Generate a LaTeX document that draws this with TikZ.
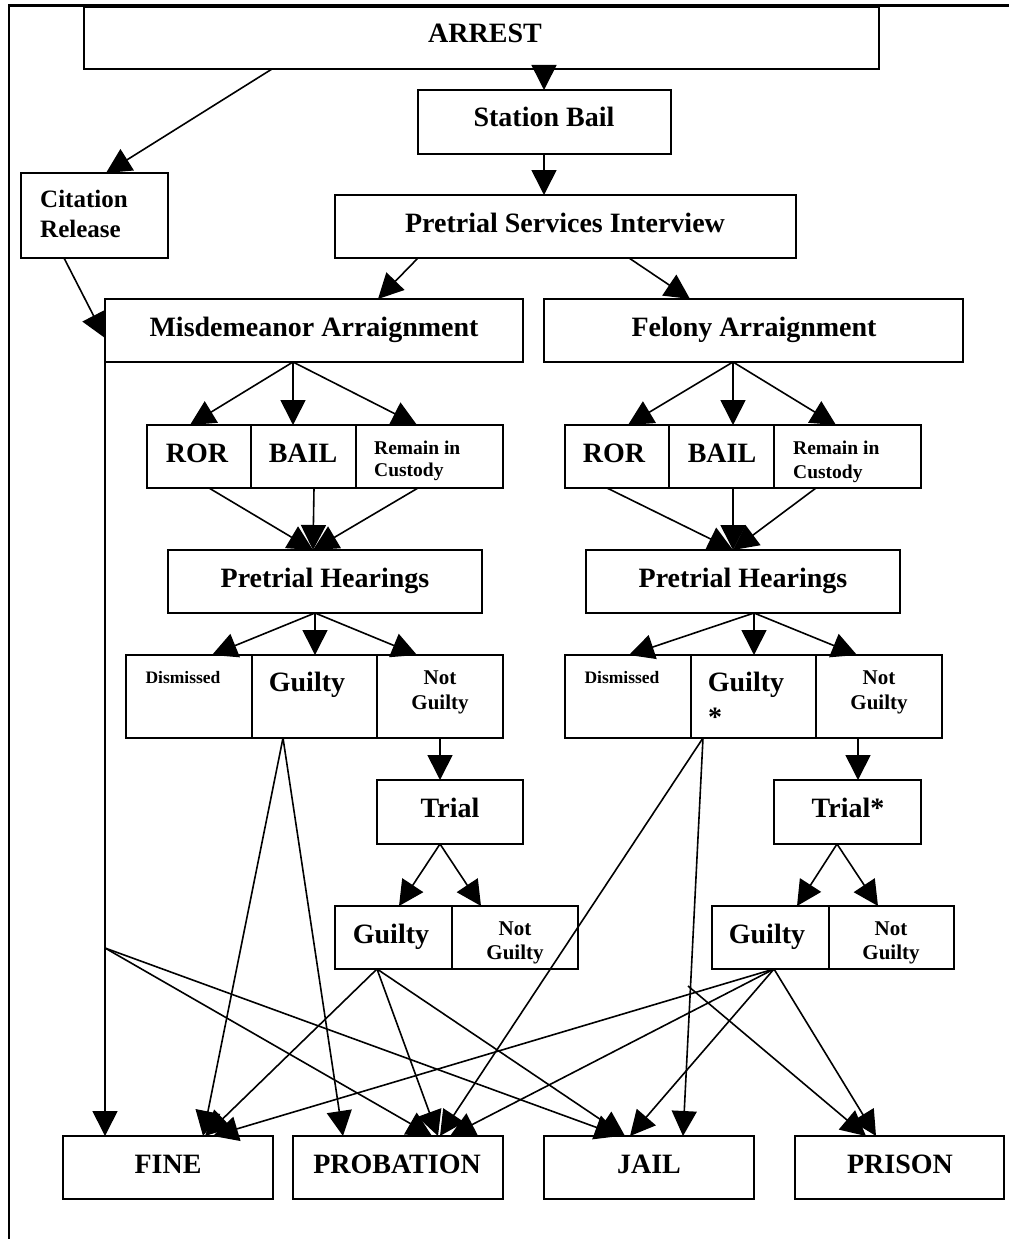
\documentclass[tikz,border=0pt]{standalone}
\usepackage{fontspec}
\setmainfont{Liberation Serif}
\usetikzlibrary{arrows.meta,calc}
\tikzset{
  box/.style={draw, line width=2pt, inner sep=0pt, outer sep=0pt, rectangle},
  lbl/.style={inner sep=0pt, anchor=base, font=\bfseries\fontsize{28}{30}\selectfont},
  cit/.style={inner sep=0pt, anchor=base west, font=\bfseries\fontsize{25}{27}\selectfont},
  rem/.style={inner sep=0pt, anchor=base west, font=\bfseries\fontsize{19.5}{21}\selectfont},
  ngl/.style={inner sep=0pt, anchor=base, font=\bfseries\fontsize{21}{23}\selectfont},
  dis/.style={inner sep=0pt, anchor=base, font=\bfseries\fontsize{17.5}{19}\selectfont},
  arr/.style={line width=1.6pt, -{Triangle[length=25pt,width=25pt]}},
  frame/.style={line width=2.5pt},
}
\newcommand\mkbox[5]{\node[box,minimum width={(#4)-(#2)},minimum height={(#5)-(#3)}] (#1) at ({((#2)+(#4))/2},{((#3)+(#5))/2}) {};}
\begin{document}
\begin{tikzpicture}[x=1pt,y=-1pt]
\useasboundingbox[fill=white] (0,0) rectangle (1009,1239);
% frame
\draw[line width=2pt] (9,1239) -- (9,6);
\draw[line width=3pt] (8,6) -- (1009,6);
% boxes
\mkbox{arrest}{84}{7}{879}{69}
\mkbox{station}{418}{90}{671}{154}
\mkbox{citation}{21}{173}{168}{258}
\mkbox{psi}{335}{195}{796}{258}
\mkbox{misd}{105}{299}{523}{362}
\mkbox{fel}{544}{299}{963}{362}
\mkbox{mror}{147}{425}{251}{488}
\mkbox{mbail}{251}{425}{356}{488}
\mkbox{mrem}{356}{425}{503}{488}
\mkbox{fror}{565}{425}{669}{488}
\mkbox{fbail}{669}{425}{774}{488}
\mkbox{frem}{774}{425}{921}{488}
\mkbox{mph}{168}{550}{482}{613}
\mkbox{fph}{586}{550}{900}{613}
\mkbox{mdis}{126}{655}{252}{738}
\mkbox{mgui}{252}{655}{377}{738}
\mkbox{mng}{377}{655}{503}{738}
\mkbox{fdis}{565}{655}{691}{738}
\mkbox{fgui}{691}{655}{816}{738}
\mkbox{fng}{816}{655}{942}{738}
\mkbox{mtrial}{377}{780}{523}{844}
\mkbox{ftrial}{774}{780}{921}{844}
\mkbox{mtg}{335}{906}{452}{969}
\mkbox{mtng}{452}{906}{578}{969}
\mkbox{ftg}{712}{906}{829}{969}
\mkbox{ftng}{829}{906}{954}{969}
\mkbox{fine}{63}{1136}{273}{1199}
\mkbox{prob}{293}{1136}{503}{1199}
\mkbox{jail}{544}{1136}{754}{1199}
\mkbox{prison}{795}{1136}{1004}{1199}
% texts
\node[lbl] (arrestT) at (485,43) {ARREST};
\node[lbl] (stationT) at (544,126) {Station Bail};
\node[cit] (citT1) at (40,207) {Citation};
\node[cit] (citT2) at (40,237) {Release};
\node[lbl] (psiT) at (565,232) {Pretrial Services Interview};
\node[lbl] (misdT) at (314,336) {Misdemeanor Arraignment};
\node[lbl] (felT) at (754,336) {Felony Arraignment};
\node[lbl] (mrorT) at (197,462) {ROR};
\node[lbl] (mbailT) at (303,462) {BAIL};
\node[rem] (mremT1) at (374,454) {Remain in};
\node[rem] (mremT2) at (374,476) {Custody};
\node[lbl] (frorT) at (614,462) {ROR};
\node[lbl] (fbailT) at (722,462) {BAIL};
\node[rem] (fremT1) at (793,454) {Remain in};
\node[rem] (fremT2) at (793,478) {Custody};
\node[lbl] (mphT) at (325,587) {Pretrial Hearings};
\node[lbl] (fphT) at (743,587) {Pretrial Hearings};
\node[dis] (mdisT) at (183,683) {Dismissed};
\node[lbl] (mguiT) at (307,691) {Guilty};
\node[ngl] (mngT1) at (440,684) {Not};
\node[ngl] (mngT2) at (440,709) {Guilty};
\node[dis] (fdisT) at (622,683) {Dismissed};
\node[lbl] (fguiT) at (746,691) {Guilty};
\node[lbl] (fstarT) at (715,726) {*};
\node[ngl] (fngT1) at (879,684) {Not};
\node[ngl] (fngT2) at (879,709) {Guilty};
\node[lbl] (mtrialT) at (450,817) {Trial};
\node[lbl] (ftrialT) at (848,817) {Trial*};
\node[lbl] (mtgT) at (391,943) {Guilty};
\node[ngl] (mtngT1) at (515,935) {Not};
\node[ngl] (mtngT2) at (515,959) {Guilty};
\node[lbl] (ftgT) at (767,943) {Guilty};
\node[ngl] (ftngT1) at (891,935) {Not};
\node[ngl] (ftngT2) at (891,959) {Guilty};
\node[lbl] (fineT) at (168,1173) {FINE};
\node[lbl] (probT) at (397,1173) {PROBATION};
\node[lbl] (jailT) at (649,1173) {JAIL};
\node[lbl] (prisonT) at (900,1173) {PRISON};
% connectors - top
\draw[arr] ([xshift=188pt]arrest.south west) -- ([xshift=85pt]citation.north west);
\draw[arr] ([xshift=126pt]station.north west |- arrest.south) -- ([xshift=126pt]station.north west);
\draw[arr] ([xshift=126pt]station.south west) -- ([xshift=126pt]station.south west |- psi.north);
\draw[arr] ([xshift=43pt]citation.south west) -- ([yshift=-39pt]misd.north west);
\draw[arr] ([xshift=83pt]psi.south west) -- ([xshift=273pt]misd.north west);
\draw[arr] ([xshift=294pt]psi.south west) -- ([xshift=146pt]fel.north west);
% arraignments to release options
\foreach \t/\s in {mror/43,mbail/42,mrem/61}
  \draw[arr] ([xshift=188pt]misd.south west) -- ([xshift=\s pt]\t.north west);
\foreach \t/\s in {fror/63,fbail/64,frem/62}
  \draw[arr] ([xshift=189pt]fel.south west) -- ([xshift=\s pt]\t.north west);
% release options to hearings
\foreach \t/\s in {mror/62,mbail/63,mrem/62}
  \draw[arr] ([xshift=\s pt]\t.south west) -- ([xshift=145pt]mph.north west);
\foreach \t/\s in {fror/42,fbail/64,frem/42}
  \draw[arr] ([xshift=\s pt]\t.south west) -- ([xshift=147pt]fph.north west);
% hearings to verdicts
\foreach \t/\s in {mdis/86,mgui/63,mng/40}
  \draw[arr] ([xshift=147pt]mph.south west) -- ([xshift=\s pt]\t.north west);
\foreach \t/\s in {fdis/64,fgui/63,fng/41}
  \draw[arr] ([xshift=168pt]fph.south west) -- ([xshift=\s pt]\t.north west);
% not guilty to trial
\draw[arr] ([xshift=63pt]mng.south west) -- ([xshift=63pt]mng.south west |- mtrial.north);
\draw[arr] ([xshift=42pt]fng.south west) -- ([xshift=84pt]ftrial.north west);
% trial to verdicts
\draw[arr] ([xshift=63pt]mtrial.south west) -- ([xshift=64pt]mtg.north west);
\draw[arr] ([xshift=63pt]mtrial.south west) -- ([xshift=29pt]mtng.north west);
\draw[arr] ([xshift=63pt]ftrial.south west) -- ([xshift=85pt]ftg.north west);
\draw[arr] ([xshift=63pt]ftrial.south west) -- ([xshift=49pt]ftng.north west);
% sentencing
\coordinate (br) at ([yshift=-586pt]misd.south west);
\coordinate (fl) at (688,986);
\draw[arr] (misd.south west) -- ([xshift=42pt]fine.north west);
\draw[arr] (br) -- ([xshift=139pt]prob.north west);
\draw[arr] (br) -- ([xshift=76pt]jail.north west);
\draw[arr] ([xshift=31pt]mgui.south west) -- ([xshift=140pt]fine.north west);
\draw[arr] ([xshift=31pt]mgui.south west) -- ([xshift=50pt]prob.north west);
\draw[arr] ([xshift=12pt]fgui.south west) -- ([xshift=147pt]prob.north west);
\draw[arr] ([xshift=12pt]fgui.south west) -- ([xshift=139pt]jail.north west);
\draw[arr] ([xshift=42pt]mtg.south west) -- ([xshift=142pt]fine.north west);
\draw[arr] ([xshift=42pt]mtg.south west) -- ([xshift=145pt]prob.north west);
\draw[arr] ([xshift=42pt]mtg.south west) -- ([xshift=81pt]jail.north west);
\draw[arr] ([xshift=62pt]ftg.south west) -- ([xshift=150pt]fine.north west);
\draw[arr] ([xshift=62pt]ftg.south west) -- ([xshift=157pt]prob.north west);
\draw[arr] ([xshift=62pt]ftg.south west) -- ([xshift=86pt]jail.north west);
\draw[arr] ([xshift=62pt]ftg.south west) -- ([xshift=81pt]prison.north west);
\draw[arr] (fl) -- ([xshift=71pt]prison.north west);
\end{tikzpicture}
\end{document}
